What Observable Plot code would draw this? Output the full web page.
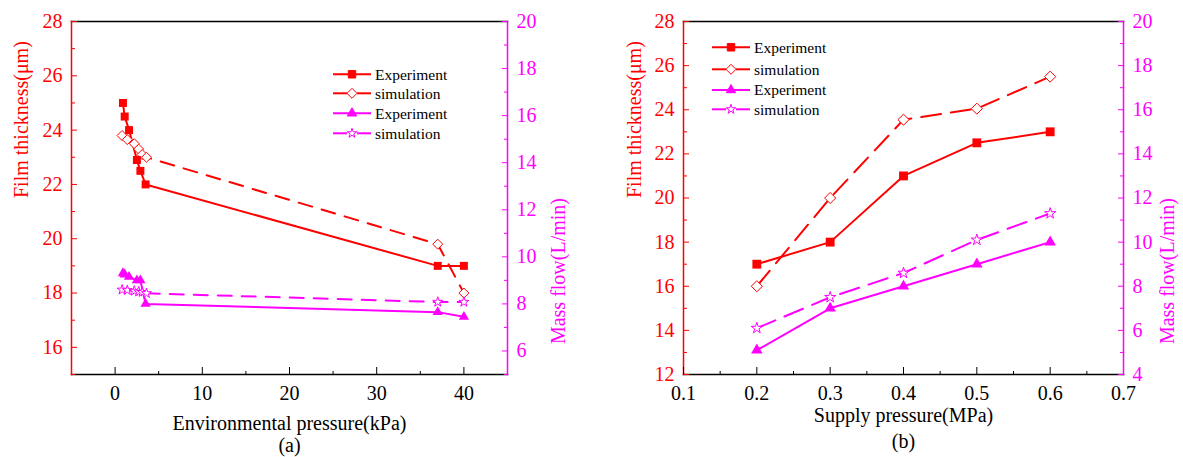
<!DOCTYPE html>
<html><head><meta charset="utf-8">
<script src="https://cdn.jsdelivr.net/npm/d3@7"></script>
<script src="https://cdn.jsdelivr.net/npm/@observablehq/plot@0.6"></script>
<style>
body{margin:0;background:#fff;}
#wrap{position:relative;width:1183px;height:457px;overflow:hidden;font-family:"Liberation Serif",serif;}
.layer{position:absolute;top:0;font-family:"Liberation Serif",serif;}
.layer text{font-family:"Liberation Serif",serif;}
</style></head><body><div id="wrap"></div>
<script>
const RED = "#ff0000", MAG = "#ff00ff";
const SERIF = "Liberation Serif";

// ---------- Panel (a): environmental pressure ----------
const envExpPressure   = [0.9, 1.1, 1.6, 2.5, 2.9, 3.5, 37, 40];
const envExpThickness  = [25.0, 24.5, 24.0, 22.9, 22.5, 22.0, 19.0, 19.0];
const envExpFlow       = [9.3, 9.25, 9.15, 9.0, 9.0, 8.0, 7.65, 7.45];
const envSimPressure   = [0.8, 1.4, 2.2, 2.7, 3.1, 3.6, 37, 40];
const envSimThickness  = [23.8, 23.65, 23.5, 23.3, 23.1, 23.0, 19.8, 18.0];
const envSimFlow       = [8.6, 8.58, 8.55, 8.52, 8.5, 8.45, 8.08, 8.08];
const envXTicks        = [0, 10, 20, 30, 40];
const envXMinor        = [5, 15, 25, 35];
const envThickTicks    = [16, 18, 20, 22, 24, 26, 28];
const envThickMinor    = [15, 17, 19, 21, 23, 25, 27];
const envFlowTicks     = [6, 8, 10, 12, 14, 16, 18, 20];
const envFlowMinor     = [5, 7, 9, 11, 13, 15, 17, 19];

// ---------- Panel (b): supply pressure ----------
const supPressure      = [0.2, 0.3, 0.4, 0.5, 0.6];
const supExpThickness  = [17.0, 18.0, 21.0, 22.5, 23.0];
const supSimThickness  = [16.0, 20.0, 23.55, 24.05, 25.5];
const supExpFlow       = [5.1, 7.0, 8.0, 9.0, 10.0];
const supSimFlow       = [6.1, 7.5, 8.6, 10.1, 11.3];
const supXTicks        = [0.1, 0.2, 0.3, 0.4, 0.5, 0.6, 0.7];
const supXMinor        = [0.15, 0.25, 0.35, 0.45, 0.55, 0.65];
const supThickTicks    = [12, 14, 16, 18, 20, 22, 24, 26, 28];
const supThickMinor    = [13, 15, 17, 19, 21, 23, 25, 27];
const supFlowTicks     = [4, 6, 8, 10, 12, 14, 16, 18, 20];
const supFlowMinor     = [5, 7, 9, 11, 13, 15, 17, 19];

const legendLabels = ["Experiment", "simulation", "Experiment", "simulation"];
const leftTitle = "Film thickness(μm)";
const rightTitle = "Mass flow(L/min)";

const zipXY = (xs, ys) => xs.map((x, i) => ({x, y: ys[i]}));

function panel(cfg) {
  const wrap = document.getElementById("wrap");
  const common = {
    width: cfg.width, height: 457,
    marginLeft: cfg.mL, marginRight: cfg.mR, marginTop: 21, marginBottom: 83,
    style: {background: "transparent", fontFamily: SERIF, overflow: "visible"}
  };
  const F = {fontFamily: SERIF};
  const exp1 = zipXY(cfg.expX, cfg.expT), sim1 = zipXY(cfg.simX, cfg.simT);
  const exp2 = zipXY(cfg.expX, cfg.expF), sim2 = zipXY(cfg.simX, cfg.simF);
  const p1 = Plot.plot({
    ...common,
    x: {domain: cfg.xDomain},
    y: {domain: cfg.tDomain},
    marks: [
      Plot.frame({anchor: "top", stroke: "black", strokeWidth: 1.5}),
      Plot.frame({anchor: "bottom", stroke: "black", strokeWidth: 1.5}),
      Plot.frame({anchor: "left", stroke: RED, strokeWidth: 1.5}),
      Plot.axisX(cfg.xTicks, {...F, anchor: "bottom", tickSize: 7, insetBottom: 7, tickPadding: 11, fontSize: 20, color: "black", label: null, tickFormat: cfg.xFormat}),
      Plot.axisX(cfg.xMinor, {anchor: "bottom", tickSize: 3, insetBottom: 3, color: "black", label: null, tickFormat: () => ""}),
      Plot.axisY(cfg.tTicks, {...F, anchor: "left", tickSize: 6, insetLeft: 6, tickPadding: 9, fontSize: 20, color: RED, label: null}),
      Plot.axisY(cfg.tMinor, {anchor: "left", tickSize: 4, insetLeft: 4, color: RED, label: null, tickFormat: () => ""}),
      Plot.line(exp1, {x: "x", y: "y", stroke: RED, strokeWidth: 2}),
      Plot.line(sim1, {x: "x", y: "y", stroke: RED, strokeWidth: 2, strokeDasharray: cfg.dash}),
      Plot.dot(sim1, {x: "x", y: "y", symbol: "diamond2", r: cfg.mk, fill: "white", stroke: RED, strokeWidth: 1}),
      Plot.dot(exp1, {x: "x", y: "y", symbol: "square", r: cfg.mk, fill: RED}),
      Plot.text([cfg.xTitle], {...F, text: d => d, frameAnchor: "bottom", dy: cfg.titleDy, fontSize: 20, fill: "black", lineAnchor: "middle"}),
      Plot.text([cfg.caption], {...F, text: d => d, frameAnchor: "bottom", dy: cfg.capDy, fontSize: 20, fill: "black", lineAnchor: "middle"}),
      Plot.text([leftTitle], {...F, text: d => d, frameAnchor: "left", dx: -cfg.lTitleDx, rotate: -90, fontSize: 20, fill: RED, lineAnchor: "middle"})
    ]
  });
  const p2 = Plot.plot({
    ...common,
    x: {domain: cfg.xDomain, axis: null},
    y: {domain: cfg.fDomain},
    marks: [
      Plot.frame({anchor: "right", stroke: MAG, strokeWidth: 1.5}),
      Plot.axisY(cfg.fTicks, {...F, anchor: "right", tickSize: 6, insetRight: 6, tickPadding: 9, fontSize: 20, color: MAG, label: null}),
      Plot.axisY(cfg.fMinor, {anchor: "right", tickSize: 4, insetRight: 4, color: MAG, label: null, tickFormat: () => ""}),
      Plot.line(exp2, {x: "x", y: "y", stroke: MAG, strokeWidth: 2}),
      Plot.line(sim2, {x: "x", y: "y", stroke: MAG, strokeWidth: 2, strokeDasharray: cfg.dash}),
      Plot.dot(exp2, {x: "x", y: "y", symbol: "triangle", r: cfg.mk * 0.85, fill: MAG}),
      Plot.dot(sim2, {x: "x", y: "y", symbol: "star", r: cfg.mk * 0.7, fill: "white", stroke: MAG, strokeWidth: 1}),
      Plot.text([rightTitle], {...F, text: d => d, frameAnchor: "right", dx: cfg.rTitleDx, rotate: -90, fontSize: 20, fill: MAG, lineAnchor: "middle"})
    ]
  });
  for (const p of [p1, p2]) {
    p.classList.add("layer");
    p.style.left = cfg.left + "px";
    wrap.appendChild(p);
  }
  // legend
  const items = [
    {label: legendLabels[0], color: RED, dashed: false, sym: d3.symbolSquare, r: 4.2, fill: RED},
    {label: legendLabels[1], color: RED, dashed: true, sym: d3.symbolDiamond2, r: 4.5, fill: "white"},
    {label: legendLabels[2], color: MAG, dashed: false, sym: d3.symbolTriangle, r: 3.5, fill: MAG},
    {label: legendLabels[3], color: MAG, dashed: true, sym: d3.symbolStar, r: 3, fill: "white"}
  ];
  const svg = d3.select(wrap).append("svg").attr("class", "layer")
    .style("left", "0px").attr("width", 1183).attr("height", 457);
  items.forEach((it, i) => {
    const y = cfg.legRows[i], x0 = cfg.legX;
    const g = svg.append("g");
    if (it.dashed) {
      g.append("line").attr("x1", x0).attr("x2", x0 + 14).attr("y1", y).attr("y2", y).attr("stroke", it.color).attr("stroke-width", 2);
      g.append("line").attr("x1", x0 + 24).attr("x2", x0 + 38).attr("y1", y).attr("y2", y).attr("stroke", it.color).attr("stroke-width", 2);
    } else {
      g.append("line").attr("x1", x0).attr("x2", x0 + 38).attr("y1", y).attr("y2", y).attr("stroke", it.color).attr("stroke-width", 2);
    }
    g.append("path").attr("d", d3.symbol().type(it.sym).size(Math.PI * it.r * it.r)())
      .attr("transform", `translate(${x0 + 19},${y})`)
      .attr("fill", it.fill).attr("stroke", it.color).attr("stroke-width", 1);
    g.append("text").attr("x", x0 + 42).attr("y", y).attr("dy", "0.35em")
      .style("font-family", "Liberation Serif").attr("font-size", 15.5).attr("fill", "black").text(it.label);
  });
}

panel({
  left: 0, width: 600, mL: 71, mR: 93,
  xDomain: [-5, 45], xTicks: envXTicks, xMinor: envXMinor, xFormat: d => String(d),
  tDomain: [15, 28], tTicks: envThickTicks, tMinor: envThickMinor,
  fDomain: [5, 20], fTicks: envFlowTicks, fMinor: envFlowMinor,
  expX: envExpPressure, expT: envExpThickness, expF: envExpFlow,
  simX: envSimPressure, simT: envSimThickness, simF: envSimFlow,
  xTitle: "Environmental pressure(kPa)", caption: "(a)", titleDy: 49, capDy: 71,
  lTitleDx: 50, rTitleDx: 51, dash: "14,10", mk: 4.5,
  legX: 333, legRows: [74.3, 93.3, 113.3, 133.3]
});
panel({
  left: 600, width: 583, mL: 83, mR: 60,
  xDomain: [0.1, 0.7], xTicks: supXTicks, xMinor: supXMinor, xFormat: d => d3.format(".1f")(d),
  tDomain: [12, 28], tTicks: supThickTicks, tMinor: supThickMinor,
  fDomain: [4, 20], fTicks: supFlowTicks, fMinor: supFlowMinor,
  expX: supPressure, expT: supExpThickness, expF: supExpFlow,
  simX: supPressure, simT: supSimThickness, simF: supSimFlow,
  xTitle: "Supply pressure(MPa)", caption: "(b)", titleDy: 41, capDy: 67,
  lTitleDx: 49, rTitleDx: 44, dash: "20,10", mk: 5,
  legX: 712, legRows: [47.3, 69.3, 90, 109.3]
});
</script></body></html>
